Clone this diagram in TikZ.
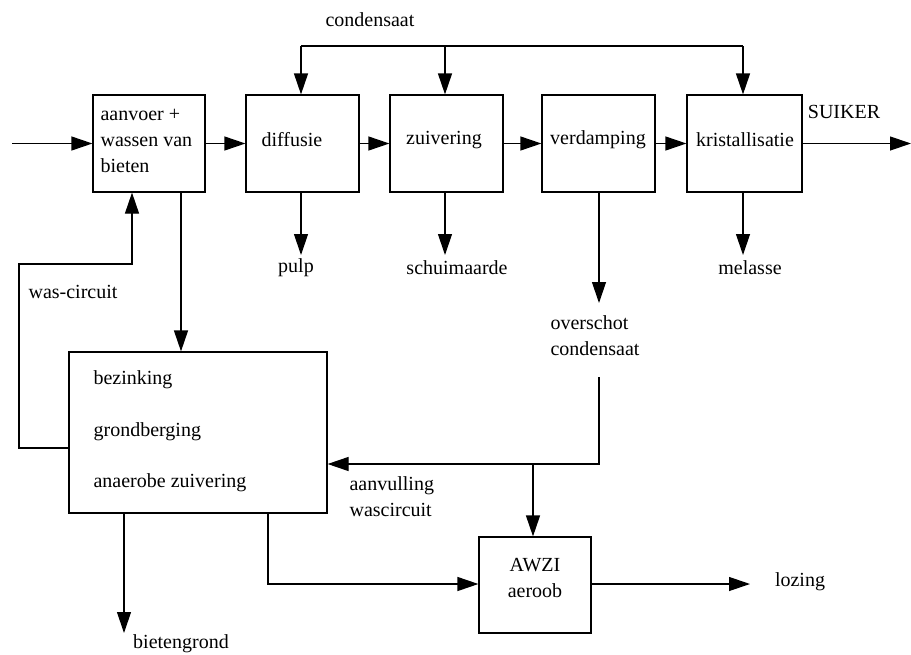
\documentclass[tikz,border=0pt]{standalone}
\usepackage{fontspec}
\setmainfont{Liberation Serif}
\usetikzlibrary{arrows.meta}
\begin{document}
\begin{tikzpicture}[x=1pt,y=-1pt,
  font=\fontsize{20pt}{26pt}\selectfont,
  line width=1.2pt,
  box/.style={draw, line width=1.2pt, inner sep=0pt},
  stage/.style={box, minimum height=97pt},
  lbl/.style={inner sep=0pt},
  arr/.style={-{Triangle[length=21pt,width=14pt]}}]
\useasboundingbox (0,0) rectangle (911,654);

% process boxes
\node[stage, minimum width=112pt] (feed)  at (149,143.5) {};
\node[stage, minimum width=113pt] (diff)  at (302.5,143.5) {};
\node[stage, minimum width=113pt] (zuiv)  at (446.5,143.5) {};
\node[stage, minimum width=113pt] (verd)  at (598.5,143.5) {};
\node[stage, minimum width=115pt] (krist) at (744.5,143.5) {};
\node[box, minimum width=258pt, minimum height=161pt] (settle) at (198,432.5) {};
\node[box, minimum width=112pt, minimum height=96pt] (awzi) at (535,585) {};

% box texts
\node[lbl, align=left, anchor=west] (tfeed) at (100,141) {aanvoer +\\wassen van\\bieten};
\node[lbl] (tdiff)  at (292,140) {diffusie};
\node[lbl] (tzuiv)  at (444,140) {zuivering};
\node[lbl] (tverd)  at (598,140) {verdamping};
\node[lbl] (tkrist) at (745,140) {kristallisatie};
\node[lbl, anchor=west] (t1) at (93,380) {bezinking};
\node[lbl, anchor=west] (t2) at (93,432) {grondberging};
\node[lbl, anchor=west] (t3) at (93,483) {anaerobe zuivering};
\node[lbl, align=center] (tawzi) at (535,578) {AWZI\\aeroob};

% free labels
\node[lbl] (lcond)  at (370,20) {condensaat};
\node[lbl] (lsuik)  at (844,112) {SUIKER};
\node[lbl] (lpulp)  at (296,268) {pulp};
\node[lbl] (lschuim) at (457,268) {schuimaarde};
\node[lbl] (lmel)   at (750,268) {melasse};
\node[lbl, align=left, anchor=west] (lover) at (550,336) {overschot\\condensaat};
\node[lbl, align=left, anchor=west] (laanv) at (349,497) {aanvulling\\wascircuit};
\node[lbl] (lwas)   at (73,292) {was-circuit};
\node[lbl] (lbiet)  at (181,644) {bietengrond};
\node[lbl] (lloz)   at (800,582) {lozing};

% main line
\coordinate (in) at (12,143.5);
\coordinate (out) at (911,143.5);
\draw[arr] (in) -- (feed.west);
\draw[arr] (feed.east) -- (diff.west);
\draw[arr] (diff.east) -- (zuiv.west);
\draw[arr] (zuiv.east) -- (verd.west);
\draw[arr] (verd.east) -- (krist.west);
\draw[arr] (krist.east) -- (out);

% condensate return
\coordinate (cL) at (301,46);
\coordinate (cM) at (445,46);
\coordinate (cR) at (743,46);
\draw (cL) -- (cR);
\draw[arr] (cL) -- (cL |- diff.north);
\draw[arr] (cM) -- (cM |- zuiv.north);
\draw[arr] (cR) -- (cR |- krist.north);

% side products
\coordinate (pp) at (301,255);
\coordinate (ps) at (445,255);
\coordinate (pm) at (743,255);
\coordinate (po) at (599,303);
\draw[arr] (pp |- diff.south) -- (pp);
\draw[arr] (ps |- zuiv.south) -- (ps);
\draw[arr] (pm |- krist.south) -- (pm);
\draw[arr] (po |- verd.south) -- (po);

% excess condensate
\coordinate (o1) at (599,377);
\coordinate (o2) at (599,464);
\coordinate (br) at (533,464);
\draw[arr] (o1) -- (o2) -- (o2 -| settle.east);
\draw[arr] (br) -- (br |- awzi.north);

% washing water
\coordinate (fd) at (181,192);
\draw[arr] (fd |- feed.south) -- (fd |- settle.north);
\coordinate (w1) at (19,448);
\coordinate (w2) at (19,264);
\coordinate (w3) at (132,264);
\draw[arr] (w1 -| settle.west) -- (w1) -- (w2) -- (w3) -- (w3 |- feed.south);

% outputs of the settling stage
\coordinate (b1) at (124,633);
\draw[arr] (b1 |- settle.south) -- (b1);
\coordinate (b2) at (268,584);
\draw[arr] (b2 |- settle.south) -- (b2) -- (b2 -| awzi.west);
\coordinate (lz) at (750,584);
\draw[arr] (lz -| awzi.east) -- (lz);
\end{tikzpicture}
\end{document}
